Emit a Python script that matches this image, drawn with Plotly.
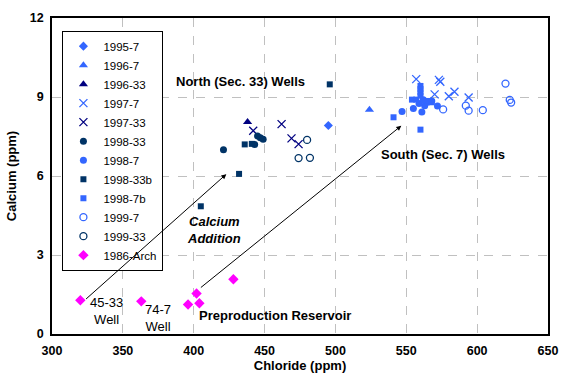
import plotly.graph_objects as go

LIGHT = "#3366FF"
DARK = "#003366"
NAVY = "#000080"
MAG = "#FF00FF"

s1995_7_x = [495]
s1995_7_y = [7.92]
s1996_7_x = [524]
s1996_7_y = [8.52]
s1996_33_x = [438]
s1996_33_y = [8.05]
s1997_7_x = [557, 573, 574, 570, 584, 580, 594]
s1997_7_y = [9.68, 9.65, 9.58, 9.10, 9.20, 9.03, 8.98]
s1997_33_x = [442, 462, 469, 474]
s1997_33_y = [7.72, 7.97, 7.43, 7.21]
s1998_33_x = [421, 443, 445, 447, 449]
s1998_33_y = [7.0, 7.2, 7.52, 7.45, 7.4]
s1998_7_x = [547, 555, 561, 563, 572, 565, 568, 559, 562]
s1998_7_y = [8.45, 8.56, 8.43, 8.67, 8.66, 8.80, 8.85, 8.75, 8.90]
s1998_33b_x = [405, 432, 436, 441, 496]
s1998_33b_y = [4.85, 6.08, 7.20, 7.22, 9.48]
s1998_7b_x = [541, 560, 554, 557, 560, 560, 560, 560, 566, 568]
s1998_7b_y = [8.23, 7.76, 8.90, 8.90, 9.42, 9.30, 9.18, 9.05, 8.85, 8.80]
s1999_7_x = [576, 592, 594, 604, 620, 623, 624]
s1999_7_y = [8.53, 8.67, 8.48, 8.50, 9.51, 8.89, 8.79]
s1999_33_x = [480, 474, 482]
s1999_33_y = [7.37, 6.68, 6.69]
s1986_x = [320, 363, 396, 404, 402, 428]
s1986_y = [1.28, 1.24, 1.12, 1.17, 1.54, 2.08]

x_ticks = [300, 350, 400, 450, 500, 550, 600, 650]
y_ticks = [0, 3, 6, 9, 12]

series = [
    ("1995-7", s1995_7_x, s1995_7_y, "diamond", LIGHT, 7),
    ("1996-7", s1996_7_x, s1996_7_y, "triangle-up", LIGHT, 8),
    ("1996-33", s1996_33_x, s1996_33_y, "triangle-up", NAVY, 8),
    ("1997-7", s1997_7_x, s1997_7_y, "x-thin-open", LIGHT, 8),
    ("1997-33", s1997_33_x, s1997_33_y, "x-thin-open", NAVY, 8),
    ("1998-33", s1998_33_x, s1998_33_y, "circle", DARK, 7),
    ("1998-7", s1998_7_x, s1998_7_y, "circle", LIGHT, 7),
    ("1998-33b", s1998_33b_x, s1998_33b_y, "square", DARK, 6),
    ("1998-7b", s1998_7b_x, s1998_7b_y, "square", LIGHT, 6),
    ("1999-7", s1999_7_x, s1999_7_y, "circle-open", LIGHT, 7),
    ("1999-33", s1999_33_x, s1999_33_y, "circle-open", DARK, 7),
    ("1986-Arch", s1986_x, s1986_y, "diamond", MAG, 8),
]

fig = go.Figure()
for name, xs, ys, sym, col, sz in series:
    fig.add_trace(go.Scatter(
        x=xs, y=ys, mode="markers", name=name,
        marker=dict(symbol=sym, color=col, size=sz,
                    line=dict(color=col, width=1.3 if "open" in sym else 0)),
    ))

FONT = "Arial, Liberation Sans, sans-serif"

annots = [
    dict(x=433, y=9.58, text="<b>North (Sec. 33) Wells</b>"),
    dict(x=576, y=6.82, text="<b>South (Sec. 7) Wells</b>"),
    dict(x=414, y=3.94, text="<b><i>Calcium<br>Addition</i></b>"),
    dict(x=457.5, y=0.71, text="<b>Preproduction Reservoir</b>"),
    dict(x=338.5, y=0.87, text="45-33<br>Well"),
    dict(x=375, y=0.62, text="74-7<br>Well"),
]
for a in annots:
    fig.add_annotation(x=a["x"], y=a["y"], text=a["text"], showarrow=False,
                       font=dict(family=FONT, size=13, color="black"),
                       xref="x", yref="y")

arrows = [((323, 1.28), (423, 6.07)), ((404, 1.72), (546.5, 7.91))]
for (x0, y0), (x1, y1) in arrows:
    fig.add_annotation(x=x1, y=y1, ax=x0, ay=y0, xref="x", yref="y",
                       axref="x", ayref="y", text="", showarrow=True,
                       arrowhead=2, arrowsize=1, arrowwidth=1, arrowcolor="black")

fig.update_layout(
    width=569, height=383,
    margin=dict(l=51, r=11, t=12, b=49),
    paper_bgcolor="white", plot_bgcolor="white",
    font=dict(family=FONT, size=13, color="black"),
    showlegend=True,
    legend=dict(x=0.021, y=0.96, xanchor="left", yanchor="top",
                bordercolor="black", borderwidth=1, bgcolor="white",
                font=dict(family=FONT, size=11.5), tracegroupgap=0,
                itemwidth=30),
)
fig.update_xaxes(range=[300, 650], tickvals=x_ticks,
                 ticktext=[f"<b>{v}</b>" for v in x_ticks],
                 tickfont=dict(size=12.5), ticklabelstandoff=4,
                 ticklabeloverflow="allow",
                 showgrid=True, gridcolor="#C0C0C0", griddash="dash", gridwidth=1,
                 showline=True, linecolor="black", linewidth=1.5, mirror=True,
                 ticks="", zeroline=False,
                 title=dict(text="<b>Chloride (ppm)</b>", font=dict(size=13), standoff=4))
fig.update_yaxes(range=[0, 12], tickvals=y_ticks,
                 ticktext=[f"<b>{v}</b>" for v in y_ticks],
                 tickfont=dict(size=12.5), ticklabelstandoff=4,
                 showgrid=True, gridcolor="#C0C0C0", griddash="dash", gridwidth=1,
                 showline=True, linecolor="black", linewidth=1.5, mirror=True,
                 ticks="", zeroline=False,
                 title=dict(text="<b>Calcium (ppm)</b>", font=dict(size=13), standoff=10))

fig.write_html("out.html", config={"displayModeBar": False},
               post_script="document.body.style.margin='0';")
